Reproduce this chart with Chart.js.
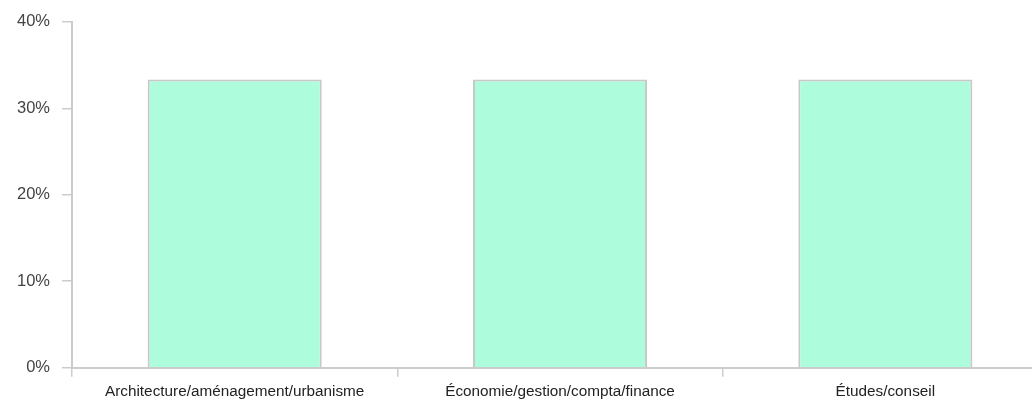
<!DOCTYPE html>
<html><head><meta charset="utf-8">
<script src="https://cdn.jsdelivr.net/npm/chart.js@4/dist/chart.umd.min.js"></script>
<style>
html,body{margin:0;padding:0;background:#fff;overflow:hidden;}
#clip{width:1032px;height:400px;overflow:hidden;position:relative;}
#wrap{width:1048px;height:408px;position:absolute;left:0;top:0;}
</style></head><body>
<div id="clip"><div id="wrap"><canvas id="c"></canvas></div></div>
<script>
const categories = ["Architecture/aménagement/urbanisme", "Économie/gestion/compta/finance", "Études/conseil"];
const shares = [33.33, 33.33, 33.33];
const yTicks = [0, 10, 20, 30, 40];

new Chart(document.getElementById('c'), {
  type: 'bar',
  data: {
    labels: categories,
    datasets: [{
      data: shares,
      backgroundColor: '#adfcdc',
      borderColor: '#c8c8c8',
      borderWidth: 2,
      borderSkipped: 'bottom',
      categoryPercentage: 1,
      barPercentage: 0.535
    }]
  },
  options: {
    responsive: true,
    maintainAspectRatio: false,
    animation: false,
    layout: { padding: { left: 5, top: 8, right: 0, bottom: 1 } },
    plugins: { legend: { display: false }, tooltip: { enabled: false } },
    scales: {
      x: {
        grid: { display: true, drawOnChartArea: false, drawTicks: true, tickLength: 9, color: '#cccccc', lineWidth: 1.5, offset: true },
        border: { display: true, color: '#cccccc', width: 2 },
        ticks: { color: '#222', font: { family: 'Liberation Sans, Arial, sans-serif', size: 15.3 }, padding: 6, maxRotation: 0, autoSkip: false }
      },
      y: {
        min: yTicks[0], max: yTicks[yTicks.length - 1],
        afterBuildTicks: (s) => { s.ticks = yTicks.map(v => ({ value: v })); },
        grid: { display: true, drawOnChartArea: false, drawTicks: true, tickLength: 10, color: '#cccccc', lineWidth: 1.5 },
        border: { display: true, color: '#cccccc', width: 2 },
        ticks: { color: '#444', font: { family: 'Liberation Sans, Arial, sans-serif', size: 16.5 }, padding: 12, callback: (v) => v + '%' }
      }
    }
  }
});
</script>
</body></html>
